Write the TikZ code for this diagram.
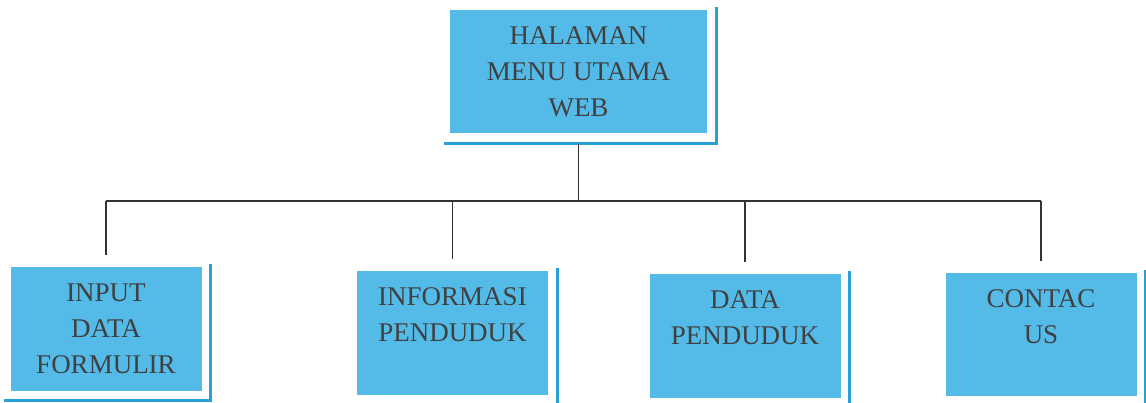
\documentclass[tikz,border=0pt]{standalone}
\usepackage{fontspec}
\setmainfont{Liberation Serif}
\usepackage{tikz}
\usepackage{xcolor}

\definecolor{boxblue}{RGB}{84,186,232}
\definecolor{edgeblue}{RGB}{40,160,212}

\tikzset{
    menubox/.style={fill=boxblue, inner sep=0pt, minimum width=191pt, minimum height=123pt,
        align=center, text=black!75, font=\fontsize{27}{36}\selectfont},
    shadeline/.style={edgeblue, line width=3pt},
    conn/.style={black!80, line width=1.4pt}
}

\begin{document}
\begin{tikzpicture}[x=1pt,y=-1pt]
    \useasboundingbox (0,0) rectangle (1146,403);

    % main page
    \node[menubox, minimum width=257pt] (top) at (578.5,71.5) {HALAMAN\\MENU UTAMA\\WEB};

    % sub pages
    \node[menubox] (inp) at (106,329)   {INPUT\\DATA\\FORMULIR};
    \node[menubox] (inf) at (452.5,333) {INFORMASI\\PENDUDUK\\~};
    \node[menubox] (dat) at (745,336)   {DATA\\PENDUDUK\\~};
    \node[menubox] (con) at (1041,334.5) {CONTAC\\US\\~};

    % box shadows
    \foreach \n in {top,inp,inf,dat,con} {
        \draw[shadeline] ([xshift=9pt,yshift=3pt]\n.north east) |- ([xshift=-6pt,yshift=-10pt]\n.south west);
    }

    % connectors
    \coordinate (bar) at (0,201);
    \draw[conn, shorten <=11pt] (top.south) -- (top.south |- bar);
    \draw[conn] (inp.north |- bar) -- (con.north |- bar);
    \foreach \n in {inp,inf,dat,con} {
        \draw[conn, shorten >=12pt] (\n.north |- bar) -- (\n.north);
    }
\end{tikzpicture}
\end{document}
